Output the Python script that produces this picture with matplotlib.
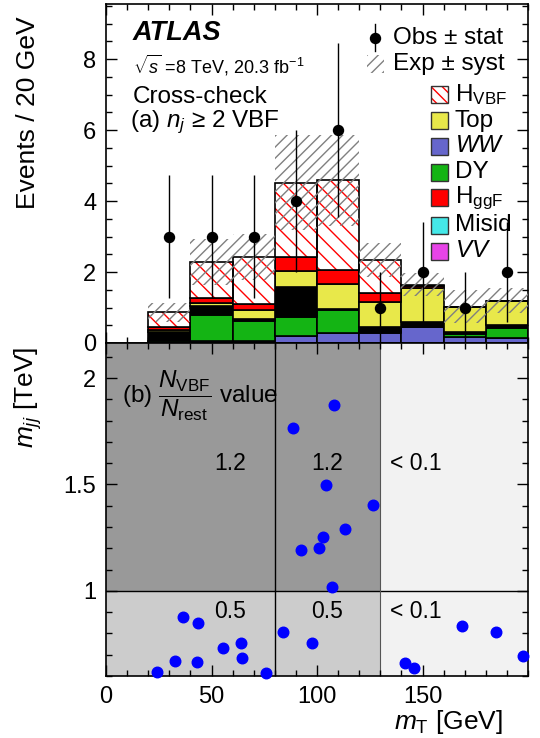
import numpy as np
import matplotlib
matplotlib.use('Agg')
import matplotlib.pyplot as plt
from matplotlib.patches import Rectangle

plt.rcParams['font.family'] = ['Liberation Sans', 'DejaVu Sans']
plt.rcParams['mathtext.fontset'] = 'custom'
plt.rcParams['mathtext.rm'] = 'Liberation Sans'
plt.rcParams['mathtext.it'] = 'Liberation Sans:italic'
plt.rcParams['mathtext.bf'] = 'Liberation Sans:bold'
plt.rcParams['hatch.linewidth'] = 1.0

# ---------------- data ----------------
bin_edges = np.arange(20, 201, 20)
ww_vals = [0.00, 0.06, 0.06, 0.20, 0.29, 0.29, 0.45, 0.18, 0.14]
dy_vals = [0.07, 0.73, 0.57, 0.53, 0.64, 0.01, 0.01, 0.07, 0.27]
other_vals = [0.24, 0.24, 0.05, 0.84, 0.03, 0.14, 0.14, 0.07, 0.10]
top_vals = [0.07, 0.11, 0.26, 0.47, 0.69, 0.72, 0.95, 0.70, 0.67]
hggf_vals = [0.06, 0.12, 0.17, 0.39, 0.42, 0.26, 0.05, 0.00, 0.01]
hvbf_vals = [0.42, 1.03, 1.31, 2.09, 2.51, 0.92, 0.04, 0.00, 0.00]
syst_vals = [0.28, 0.65, 0.65, 1.34, 1.28, 0.47, 0.33, 0.47, 0.35]
obs_vals = [3, 3, 3, 4, 6, 1, 2, 1, 2]

mt_points = [24.3, 32.7, 36.6, 43.6, 43.3, 55.3, 63.8, 64.3, 75.8,
             83.9, 88.5, 92.3, 97.5,
             108.1, 104.4, 113.4, 103.0, 100.9, 106.9,
             126.4, 141.9, 146.0, 168.9, 184.7, 197.8]
mjj_points = [0.621, 0.671, 0.877, 0.851, 0.667, 0.730, 0.753, 0.684, 0.612,
              0.808, 1.764, 1.193, 0.753,
              1.873, 1.497, 1.292, 1.255, 1.200, 1.019,
              1.403, 0.659, 0.638, 0.833, 0.805, 0.693]

region_x = [0, 80, 130, 200]
region_y = [0.6, 1.0, 2.165]
ratio_high = ['1.2', '1.2', '< 0.1']
ratio_low = ['0.5', '0.5', '< 0.1']
label_x = [59, 104.6, 147]

# ---------------- figure ----------------
fig = plt.figure(figsize=(5.4, 7.38), dpi=100)
W, H = 540, 738
L, R = 106, 528
ax1 = fig.add_axes([L / W, 1 - 343 / H, (R - L) / W, (343 - 4) / H])
ax2 = fig.add_axes([L / W, 1 - 676 / H, (R - L) / W, (676 - 343) / H])

centers = (bin_edges[:-1] + bin_edges[1:]) / 2
width = 20

layers = [(ww_vals, '#6666cc'), (dy_vals, '#14b414'), (other_vals, '#000000'),
          (top_vals, '#e8e84a'), (hggf_vals, '#ff0000')]
bottom = np.zeros(len(centers))
for vals, col in layers:
    v = np.array(vals)
    ax1.bar(centers, v, width=width, bottom=bottom, color=col,
            edgecolor='black', linewidth=1.2, zorder=2)
    bottom = bottom + v
hv = np.array(hvbf_vals)
ax1.bar(centers, hv, width=width, bottom=bottom, facecolor='white',
        edgecolor='red', hatch='\\\\', linewidth=0, zorder=2)
ax1.bar(centers, hv, width=width, bottom=bottom, fill=False,
        edgecolor='black', linewidth=1.2, zorder=3)
total = bottom + hv
sy = np.array(syst_vals)
ax1.bar(centers, 2 * sy, width=width, bottom=total - sy, facecolor='none',
        edgecolor='#808080', hatch='///', linewidth=0, zorder=4)

obs = np.array(obs_vals, dtype=float)
ax1.errorbar(centers, obs, yerr=np.sqrt(obs), fmt='o', color='black', ms=7.2,
             elinewidth=1.0, capsize=0, zorder=10)

ax1.set_xlim(0, 200)
ax1.set_ylim(0, 9.55)
ax1.set_xticks([0, 50, 100, 150])
ax1.set_xticks(np.arange(0, 201, 10), minor=True)
ax1.set_yticks([0, 2, 4, 6, 8])
ax1.set_yticks(np.arange(0, 9.6, 0.5), minor=True)
ax1.tick_params(labelbottom=False)

# texts upper
tr = ax1.transAxes
ax1.text(0.064, 0.914, 'ATLAS', transform=tr, fontsize=19.5, fontweight='bold',
         fontstyle='italic', va='center', ha='left')
ax1.text(0.064, 0.820, r'$\sqrt{s}$ =8 TeV, 20.3 fb$^{-1}$', transform=tr,
         fontsize=13, va='center', ha='left')
ax1.text(0.064, 0.726, 'Cross-check', transform=tr, fontsize=17.5,
         va='center', ha='left')
ax1.text(0.057, 0.652, r'(a) $n_j$ ≥ 2 VBF', transform=tr, fontsize=17.5,
         va='center', ha='left')

# legend
ax1.plot([0.637], [0.900], 'o', color='black', ms=7.2, transform=tr,
         clip_on=False, zorder=12)
ax1.plot([0.637, 0.637], [0.860, 0.940], color='black', lw=1.0, transform=tr,
         zorder=12)
ax1.text(0.680, 0.900, 'Obs ± stat', transform=tr, fontsize=17.5,
         va='center', ha='left')
ax1.add_patch(Rectangle((0.618, 0.797), 0.041, 0.052, transform=tr,
                        facecolor='none', edgecolor='#808080', hatch='///',
                        linewidth=0, zorder=12))
ax1.text(0.680, 0.823, 'Exp ± syst', transform=tr, fontsize=17.5,
         va='center', ha='left')

leg_items = [('H$_{\\rm VBF}$', 'white', True),
             ('Top', '#e8e84a', False),
             ('$WW$', '#6666cc', False),
             ('DY', '#14b414', False),
             ('H$_{\\rm ggF}$', '#ff0000', False),
             ('Misid', '#44e8e8', False),
             ('$VV$', '#e844e8', False)]
leg_y = [0.733, 0.656, 0.580, 0.503, 0.428, 0.348, 0.271]
for (lab, col, hat), yy in zip(leg_items, leg_y):
    if hat:
        ax1.add_patch(Rectangle((0.770, yy - 0.025), 0.041, 0.050, transform=tr,
                                facecolor='white', edgecolor='red', hatch='\\\\\\',
                                linewidth=0, zorder=12))
    else:
        ax1.add_patch(Rectangle((0.770, yy - 0.025), 0.041, 0.050, transform=tr,
                                facecolor=col, edgecolor='none', zorder=12))
    ax1.add_patch(Rectangle((0.770, yy - 0.025), 0.041, 0.050, transform=tr,
                            fill=False, edgecolor='#333333', linewidth=1.0,
                            zorder=13))
    ax1.text(0.827, yy, lab, transform=tr, fontsize=17.5, va='center', ha='left')

# ---------------- lower panel ----------------
shade = {('lo', 0): '#cccccc', ('lo', 1): '#cccccc', ('lo', 2): '#f2f2f2',
         ('hi', 0): '#999999', ('hi', 1): '#999999', ('hi', 2): '#f2f2f2'}
for i in range(3):
    ax2.add_patch(Rectangle((region_x[i], region_y[0]), region_x[i + 1] - region_x[i],
                            region_y[1] - region_y[0], facecolor=shade[('lo', i)],
                            edgecolor='none', zorder=0))
    ax2.add_patch(Rectangle((region_x[i], region_y[1]), region_x[i + 1] - region_x[i],
                            region_y[2] - region_y[1], facecolor=shade[('hi', i)],
                            edgecolor='none', zorder=0))
ax2.axhline(region_y[1], color='black', lw=1.0, zorder=1)
ax2.axvline(region_x[1], color='black', lw=1.0, zorder=1)
ax2.axvline(region_x[2], color='#555555', lw=0.8, zorder=1)

for xx, t in zip(label_x, ratio_high):
    ax2.text(xx, 1.6, t, fontsize=16.5, ha='center', va='center')
for xx, t in zip(label_x, ratio_low):
    ax2.text(xx, 0.905, t, fontsize=16.5, ha='center', va='center')

ax2.text(7.5, 1.915, r'(b) $\dfrac{N_{\rm VBF}}{N_{\rm rest}}$ value', fontsize=17.5,
         ha='left', va='center')

ax2.plot(mt_points, mjj_points, 'o', color='#0000ff', ms=7.6, zorder=5,
         clip_on=False)

ax2.set_xlim(0, 200)
ax2.set_ylim(region_y[0], region_y[2])
ax2.set_xticks([0, 50, 100, 150])
ax2.set_xticks(np.arange(0, 201, 10), minor=True)
ax2.set_yticks([1, 1.5, 2])
ax2.set_yticklabels(['1', '1.5', '2'])
ax2.set_yticks(np.arange(0.6, 2.17, 0.1), minor=True)

for ax in (ax1, ax2):
    ax.tick_params(which='both', direction='in', top=True, right=True,
                   labelsize=17, width=1.0)
    ax.tick_params(which='major', length=8, pad=7)
    ax.tick_params(which='minor', length=4.5)
    for s in ax.spines.values():
        s.set_linewidth(1.2)
ax2.tick_params(axis='x', pad=7)

fig.text(28 / W, 1 - 113 / H, 'Events / 20 GeV', rotation=90, fontsize=19,
         ha='center', va='center')
fig.text(28 / W, 1 - 397 / H, r'$m_{jj}$ [TeV]', rotation=90, fontsize=19,
         ha='center', va='center')
fig.text(503 / W, 1 - 722 / H, r'$m_{\rm T}$ [GeV]', fontsize=19,
         ha='right', va='center')

fig.savefig('out.png', dpi=100)
